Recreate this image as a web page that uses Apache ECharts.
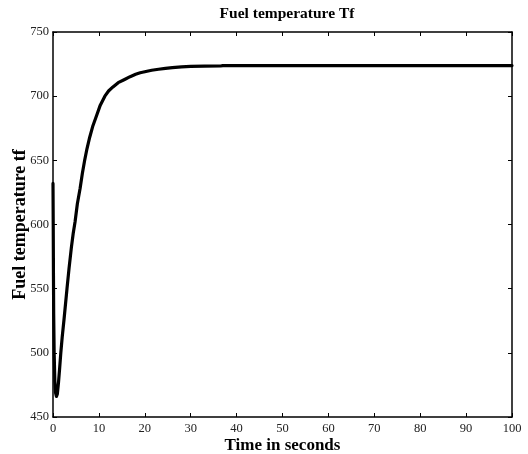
<!DOCTYPE html>
<html>
<head>
<meta charset="utf-8">
<script src="https://cdn.jsdelivr.net/npm/echarts@6/dist/echarts.min.js"></script>
<style>
html,body{margin:0;padding:0;background:#fff;}
#chart{width:528px;height:454px;}
</style>
</head>
<body>
<div id="chart"></div>
<script>
var titleText = "Fuel temperature Tf";
var xName = "Time in seconds";
var yName = "Fuel temperature tf";
var xTicks = [0,10,20,30,40,50,60,70,80,90,100];
var yTicks = [450,500,550,600,650,700,750];
var timeS = [0,0.05,0.1,0.15,0.25,0.4,0.55,0.75,0.95,1.2,1.45,1.7,2.0,2.4,3.05,3.5,4.0,4.4,4.8,5.3,5.9,6.4,6.9,7.4,8.0,8.7,9.5,10.3,11.3,12.1,13.0,14.2,15.6,16.8,18,19,20,21.5,23,24.5,26,28,30,33,36.5,37,50,70,100];
var tempF = [632,600,560,530,500,478,469,466,468,477,488,500,512,526,550,566,582,593,602,616,628,640,650,659,668,677,685,693,700,704,707,710.5,713,715.2,717,718.2,719,720.2,721,721.7,722.2,722.8,723.2,723.4,723.5,723.8,723.8,723.8,723.8];

var pts = timeS.map(function(t,i){return [t,tempF[i]];});
var font = "Liberation Serif";
var chart = echarts.init(document.getElementById('chart'), null, {renderer:'canvas'});
var baseAxisX = {
  type:'value', min:0, max:100, interval:10,
  axisLine:{show:true, onZero:false, lineStyle:{color:'#000', width:1.5}},
  axisTick:{show:true, inside:true, length:4, lineStyle:{color:'#000'}},
  splitLine:{show:false}
};
var baseAxisY = {
  type:'value', min:450, max:750, interval:50,
  axisLine:{show:true, onZero:false, lineStyle:{color:'#000', width:1.5}},
  axisTick:{show:true, inside:true, length:4, lineStyle:{color:'#000'}},
  splitLine:{show:false}
};
chart.setOption({
  animation:false,
  backgroundColor:'#fff',
  title:{text:titleText, left:282, textAlign:'center', top:1,
    textStyle:{fontFamily:font, fontWeight:'bold', fontSize:15.5, color:'#000'}},
  grid:{left:53, top:32, right:16, bottom:37, containLabel:false, outerBoundsMode:'none'},
  xAxis:[
    Object.assign({}, baseAxisX, {position:'bottom', name:xName, nameLocation:'middle', nameGap:20, nameMoveOverlap:false,
      nameTextStyle:{fontFamily:font, fontWeight:'bold', fontSize:17, color:'#000'},
      axisLabel:{fontFamily:font, fontSize:12.5, color:'#222', margin:5,
        formatter:function(v){return xTicks.indexOf(v)>=0?String(v):'';}}}),
    Object.assign({}, baseAxisX, {position:'top', axisLabel:{show:false}})
  ],
  yAxis:[
    Object.assign({}, baseAxisY, {position:'left', name:yName, nameLocation:'middle', nameGap:24, nameMoveOverlap:false,
      nameTextStyle:{fontFamily:font, fontWeight:'bold', fontSize:18, color:'#000'},
      axisLabel:{fontFamily:font, fontSize:12.5, color:'#222', margin:4,
        formatter:function(v){return yTicks.indexOf(v)>=0?String(v):'';}}}),
    Object.assign({}, baseAxisY, {position:'right', axisLabel:{show:false}})
  ],
  series:[{
    type:'line', data:pts, xAxisIndex:0, yAxisIndex:0,
    showSymbol:false, smooth:false,
    lineStyle:{color:'#000', width:3.2, join:'round', cap:'round'}
  }]
});
</script>
</body>
</html>
